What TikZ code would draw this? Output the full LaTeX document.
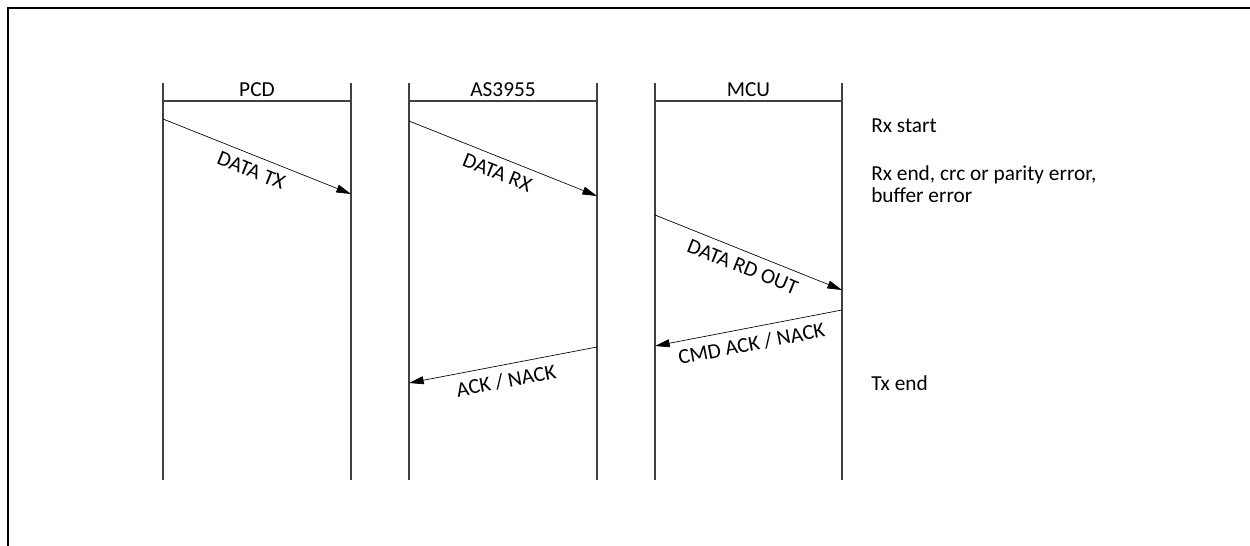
\documentclass[tikz,border=0pt]{standalone}
\usepackage{fontspec}
\setmainfont{Carlito}
\usetikzlibrary{arrows.meta}

\tikzset{
    lifeline/.style={draw=black!75, line width=0.8pt},
    msg/.style={draw, line width=0.5pt, -{Triangle[length=11pt, width=6pt]}},
    msglabel/.style={sloped, below=5pt, midway, inner sep=1pt, font=\fontsize{16}{19}\selectfont},
    note/.style={anchor=west, align=left, inner sep=0pt, font=\fontsize{16}{13}\selectfont}
}

\begin{document}
\begin{tikzpicture}[x=0.75pt, y=-0.75pt]
    \useasboundingbox (0,0) rectangle (1250,546);
    \draw[line width=1.3pt] (8,546) -- (8,8) -- (1250,8);
    % lifelines
    \draw[lifeline] (163,83) -- (163,480);
    \draw[lifeline] (351,83) -- (351,480);
    \draw[lifeline] (163,101) -- (351,101);
    \draw[lifeline] (409,83) -- (409,480);
    \draw[lifeline] (597,83) -- (597,480);
    \draw[lifeline] (409,101) -- (597,101);
    \draw[lifeline] (655,83) -- (655,480);
    \draw[lifeline] (842,83) -- (842,480);
    \draw[lifeline] (655,101) -- (842,101);
    \node (pcd) [above, inner sep=3pt, font=\fontsize{16}{19}\selectfont] at (257,101) {PCD};
    \node (as) [above, inner sep=3pt, font=\fontsize{16}{19}\selectfont] at (503,101) {AS3955};
    \node (mcu) [above, inner sep=3pt, font=\fontsize{16}{19}\selectfont] at (748.5,101) {MCU};
    % message end points
    \coordinate (txa) at (163,119);
    \coordinate (txb) at (351,194);
    \coordinate (rxa) at (409,121);
    \coordinate (rxb) at (597,196);
    \coordinate (rda) at (655,215);
    \coordinate (rdb) at (842,290);
    \coordinate (cmda) at (842,310);
    \coordinate (cmdb) at (655,346);
    \coordinate (acka) at (597,347);
    \coordinate (ackb) at (409,383);
    \draw[msg] (txa) -- (txb) node[msglabel] {DATA TX};
    \draw[msg] (rxa) -- (rxb) node[msglabel] {DATA RX};
    \draw[msg] (rda) -- (rdb) node[msglabel] {DATA RD OUT};
    \draw[msg] (cmda) -- (cmdb) node[msglabel] {CMD ACK / NACK};
    \draw[msg] (acka) -- (ackb) node[msglabel] {ACK / NACK};
    % events
    \node (rxstart) [note] at (871,126) {Rx start};
    \node (rxend) [note] at (871,184) {Rx end, crc or parity error,\\[2pt]buffer error};
    \node (txend) [note] at (871,383) {Tx end};
\end{tikzpicture}
\end{document}
